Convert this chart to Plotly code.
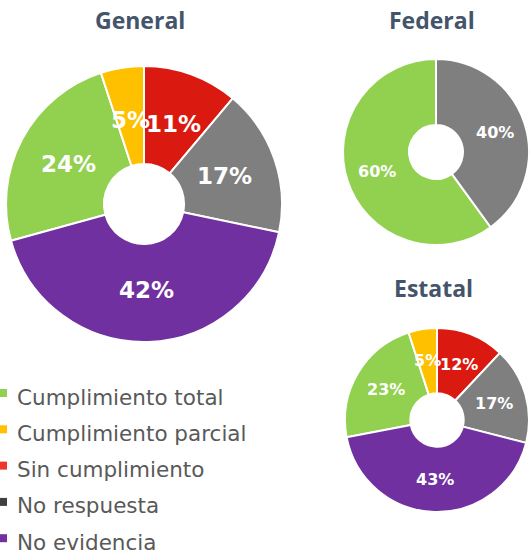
import math
import plotly.graph_objects as go

# Categories and results (percent of cases)
categories = ["Cumplimiento total", "Cumplimiento parcial", "Sin cumplimiento",
              "No respuesta", "No evidencia"]
general = [24, 5, 11, 17, 42]
federal = [60, 0, 0, 40, 0]
estatal = [23, 5, 12, 17, 43]

slice_colors = ["#92D050", "#FFC000", "#DA1A10", "#7F7F7F", "#7030A0"]
legend_colors = ["#92D050", "#FFC000", "#F0352B", "#404040", "#7030A0"]

W, H = 529, 552


def px(x, y):
    return x / W, 1 - y / H


# (title, values, centre x, centre y, radius, label font size, label radius, title y)
charts = [
    ("General", general, 144, 204, 138, 23, 0.62, 20),
    ("Federal", federal, 436, 152, 93, 16, 0.67, 20),
    ("Estatal", estatal, 437, 420, 92, 16, 0.65, 288),
]

fig = go.Figure()
annotations = []

for title, values, cx, cy, R, fsize, rf, ty in charts:
    labels = [c for c, v in zip(categories, values) if v > 0]
    vals = [v for v in values if v > 0]
    cols = [c for c, v in zip(slice_colors, values) if v > 0]
    total = sum(vals)
    # first slice starts so that "Sin cumplimiento" begins at 12 o'clock
    before = sum(values[:2])
    rot = -360.0 * before / total
    x0, y1 = px(cx - R, cy - R)
    x1, y0 = px(cx + R, cy + R)
    fig.add_trace(go.Pie(
        labels=labels, values=vals, sort=False, direction="clockwise",
        rotation=rot, hole=0.29,
        marker=dict(colors=cols, line=dict(color="white", width=2)),
        textinfo="none", hoverinfo="label+percent", showlegend=False,
        domain=dict(x=[max(x0, 0), min(x1, 1)], y=[max(y0, 0), min(y1, 1)]),
    ))
    # percentage labels at the middle of each slice
    cum = 0
    for v in vals:
        ang = math.radians(rot + 360.0 * (cum + v / 2) / total)
        cum += v
        r = rf * R
        lx, ly = px(cx + r * math.sin(ang), cy - r * math.cos(ang))
        annotations.append(dict(
            x=lx, y=ly, xref="paper", yref="paper", text=f"{v}%",
            showarrow=False, xanchor="center", yanchor="middle",
            font=dict(family="DejaVu Sans", size=fsize, color="white", weight="bold"),
        ))
    tx, tyy = px(cx - 4, ty)
    annotations.append(dict(
        x=tx, y=tyy, xref="paper", yref="paper", text=f"<b>{title}</b>",
        showarrow=False, xanchor="center", yanchor="middle",
        font=dict(family="Open Sans", size=23, color="#44546A"),
    ))

# legend drawn as squares with text
shapes = []
for i, (name, col) in enumerate(zip(categories, legend_colors)):
    yc = 396.5 + i * 36.3
    sx0, sy0 = px(0, yc - 7.5)
    sx1, sy1 = px(7, yc + 0.5)
    shapes.append(dict(type="rect", xref="paper", yref="paper",
                       x0=sx0, x1=sx1, y0=sy1, y1=sy0,
                       fillcolor=col, line=dict(width=0)))
    lx, ly = px(15, yc + 0.5)
    annotations.append(dict(
        x=lx, y=ly, xref="paper", yref="paper", text=name, showarrow=False,
        xanchor="left", yanchor="middle",
        font=dict(family="DejaVu Sans", size=21.5, color="#595959"),
    ))

fig.update_layout(
    width=W, height=H, autosize=False,
    margin=dict(l=0, r=0, t=0, b=0),
    paper_bgcolor="white", plot_bgcolor="white",
    annotations=annotations, shapes=shapes,
)

fig.write_html("out.html")
